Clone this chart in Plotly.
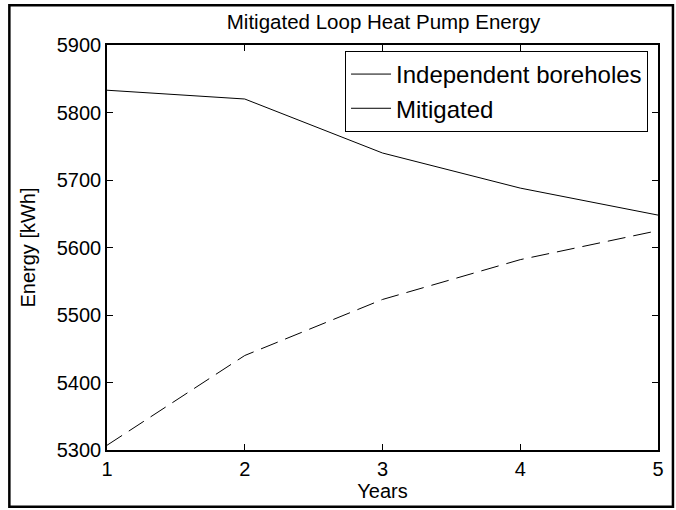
import plotly.graph_objects as go

years = [1, 2, 3, 4, 5]
independent = [5833, 5820, 5740, 5688, 5648]
mitigated = [5307, 5440, 5523, 5582, 5625]
series_names = ["Independent boreholes", "Mitigated"]
y_ticks = [5300, 5400, 5500, 5600, 5700, 5800, 5900]

FONT = "Liberation Sans, Arial, sans-serif"

fig = go.Figure()
fig.add_trace(go.Scatter(x=years, y=independent, mode="lines",
                         line=dict(color="black", width=1), showlegend=False))
fig.add_trace(go.Scatter(x=years, y=mitigated, mode="lines",
                         line=dict(color="black", width=1, dash="18px,8px"), showlegend=False))
# legend entries (MATLAB-style: both drawn solid)
for nm in series_names:
    fig.add_trace(go.Scatter(x=[None], y=[None], mode="lines", name=nm,
                             line=dict(color="black", width=1)))

W, H = 676, 510
L, R, T, B = 107, 660, 45, 452
pw, ph = R - L, B - T

axis_common = dict(showline=True, linecolor="black", linewidth=1.5, mirror="ticks",
                   ticks="inside", ticklen=6, tickcolor="black", tickwidth=1,
                   showgrid=False, zeroline=False,
                   tickfont=dict(family=FONT, size=20, color="black"))

fig.update_layout(
    width=W, height=H,
    margin=dict(l=L, r=W - R, t=T, b=H - B),
    paper_bgcolor="white", plot_bgcolor="white",
    title=dict(text="Mitigated Loop Heat Pump Energy", x=(L + R) / 2 / W, xanchor="center",
               y=1 - 22 / H, yanchor="middle",
               font=dict(family=FONT, size=20.5, color="black")),
    xaxis=dict(range=[1, 5], tickvals=years, title=dict(text="Years", standoff=4,
               font=dict(family=FONT, size=20, color="black")), **axis_common),
    yaxis=dict(range=[5300, 5900], tickvals=y_ticks, title=dict(text="Energy [kWh]", standoff=16,
               font=dict(family=FONT, size=20, color="black")), **axis_common),
    legend=dict(x=(650 - L) / pw, xanchor="right", y=(B - 51) / ph, yanchor="top",
                bgcolor="white", bordercolor="black", borderwidth=1, itemwidth=40,
                font=dict(family=FONT, size=24, color="black"), tracegroupgap=0),
    shapes=[dict(type="rect", xref="paper", yref="paper",
                 x0=(9 - L) / pw, x1=(675 - L) / pw, y0=(B - 509) / ph, y1=(B - 5) / ph,
                 line=dict(color="black", width=2.5), layer="below")],
)

fig.write_html("out.html", config={"displayModeBar": False},
               post_script="document.body.style.margin='0';document.body.style.overflow='hidden';")
